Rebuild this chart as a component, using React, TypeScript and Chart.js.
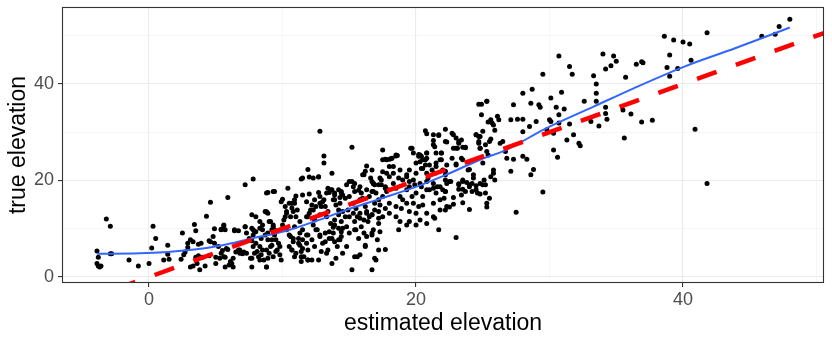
import React, { useEffect, useRef } from "react";
import { Chart, registerables } from "chart.js";

Chart.register(...registerables);

// Axis ranges and ticks
const X_MIN = -6.52;
const X_MAX = 50.56;
const Y_MIN = -1.24;
const Y_MAX = 55.95;
const gridTicks = [0, 10, 20, 30, 40, 50];
const labelTicks = [0, 20, 40];

// Reference line y = intercept + slope * x
const ablineIntercept = 0;
const ablineSlope = 1;

// Smoothed (loess) curve
const loessX = [-3.9, -0.7, 3.4, 5.5, 7.7, 10.3, 12.5, 15.3, 17.3, 20.3, 22.1, 24.8, 26.8, 29.6, 33.3, 36.3, 40.1, 43.9, 48.0];
const loessY = [4.8, 4.9, 5.7, 6.6, 8.0, 9.6, 11.6, 14.4, 16.2, 19.0, 21.0, 24.3, 26.4, 30.6, 35.3, 39.1, 43.6, 47.4, 51.7];

// Observations: [estimated elevation, true elevation]
const pointsLeft: number[][] = [
  [-3.2, 12.0], [-2.9, 10.5], [-3.9, 5.4], [-3.8, 4.1], [-3.9, 2.8], [-3.8, 2.3], [-3.6, 2.3], [-3.7, 2.1],
  [-2.9, 4.8], [-2.8, 4.8], [-1.5, 3.5], [-0.8, 2.3], [0, 2.8], [0.2, 6.0], [0.3, 10.5], [0.5, 8.0],
  [1.4, 6.6], [1.4, 4.7], [1.1, 3.5], [1.5, 3.7], [2.5, 9.1], [2.4, 3.7], [2.6, 4.6], [2.7, 5.2],
  [2.9, 7.0], [3.1, 7.7], [3.3, 7.3], [2.9, 6.1], [3.4, 10.9], [3.5, 9.6], [3.1, 2.1], [3.3, 2.3],
  [3.6, 2.8], [3.8, 1.5], [3.5, 4.1], [3.7, 6.8], [3.9, 7.0], [3.7, 4.4], [4.0, 4.1], [4.5, 4.4],
  [4.2, 2.3], [4.3, 12.6], [4.6, 15.5], [4.5, 7.5], [4.6, 7.3], [4.8, 8.4], [4.9, 10.0], [4.9, 7.0],
  [5.2, 6.3], [5.0, 4.1], [5.0, 2.8], [5.4, 9.8], [5.6, 10.6], [5.7, 9.8], [5.3, 3.9], [5.7, 4.1],
  [5.5, 5.5], [5.9, 5.7], [5.9, 16.5], [5.7, 2.1], [6.0, 2.5], [6.2, 2.8], [6.3, 3.9], [6.4, 9.6],
  [6.7, 9.6], [6.5, 5.2], [6.7, 5.6], [6.8, 4.9], [7.0, 4.8], [7.1, 5.2], [7.2, 19.1], [7.2, 10.4],
  [7.3, 9.1], [7.5, 8.0], [7.7, 7.5], [7.6, 3.9], [7.7, 2.1], [7.7, 12.9], [7.8, 20.3],
];

const pointsMiddleLow: number[][] = [
  [13.1, 25.1], [13.1, 23.6], [13.7, 21.5], [11.9, 22.3], [11.4, 20.3], [12.3, 20.5], [12.7, 20.7], [10.4, 18.4],
  [8.8, 17.4], [9.3, 17.7], [11.0, 16.8], [11.5, 17.0], [12.0, 17.2], [12.7, 17.5], [13.4, 18.4], [13.5, 17.5],
  [13.9, 17.4], [13.7, 18.1], [14.4, 17.7], [14.5, 17.0], [14.3, 16.5], [10.0, 16.1], [10.9, 15.3], [10.7, 14.3],
  [10.3, 13.2], [10.2, 12.5], [8.8, 13.5], [8.9, 13.2], [8.0, 12.5], [7.8, 9.8], [7.9, 9.4], [8.3, 10.1],
  [8.5, 9.8], [8.7, 8.7], [9.2, 9.8], [9.4, 8.7], [9.5, 7.7], [9.7, 7.0], [9.8, 6.3], [8.8, 5.6],
  [9.0, 4.9], [8.9, 3.9], [8.8, 2.1], [7.8, 6.3], [8.0, 7.0], [7.9, 4.9], [8.2, 4.2], [10.0, 10.8],
  [10.3, 9.8], [10.5, 8.7], [10.8, 8.0], [10.5, 6.3], [10.7, 5.6], [11.0, 4.9], [10.9, 4.2], [11.3, 9.1],
  [11.5, 7.7], [11.5, 5.9], [11.8, 7.0], [11.4, 4.2], [11.9, 3.5], [12.2, 3.5], [11.8, 12.5], [12.0, 13.2],
  [12.3, 13.9], [12.5, 14.6], [12.8, 15.3], [13.0, 15.6], [12.3, 10.8], [12.5, 9.8], [12.8, 8.7], [13.2, 9.1],
  [13.5, 9.4], [13.8, 10.3], [13.0, 7.0], [13.4, 5.6], [13.9, 7.3], [14.2, 7.7], [14.4, 8.4], [12.7, 3.5],
  [13.7, 2.8], [14.0, 3.9], [14.5, 4.9], [15.0, 12.5], [14.2, 12.9], [14.5, 13.6], [14.9, 13.9], [14.4, 11.5],
  [14.8, 10.4], [15.5, 9.8], [15.7, 8.0], [16.2, 6.3], [15.8, 4.6], [15.4, 4.2], [15.2, 1.5], [15.0, 19.8],
  [15.3, 18.7], [15.4, 17.7], [15.0, 16.7], [15.7, 18.0], [15.9, 17.4], [16.0, 16.3], [15.8, 16.0], [16.0, 21.2],
  [16.3, 23.0], [16.7, 22.2], [16.2, 14.6], [16.3, 13.6], [16.5, 12.5], [16.4, 11.5], [16.7, 19.8], [16.9, 19.1],
  [16.8, 17.7], [17.0, 17.4], [17.2, 16.0], [17.3, 14.9], [17.4, 20.1], [17.4, 19.1], [17.7, 18.7], [17.8, 17.7],
  [16.8, 9.8], [17.3, 9.4], [16.7, 8.7], [17.2, 11.1], [16.3, 8.4], [17.2, 5.6], [17.7, 5.7], [17.0, 3.5],
  [16.7, 1.5], [17.5, 24.3], [18.0, 24.4], [18.5, 25.1], [18.3, 22.9], [17.8, 21.5], [18.0, 20.8], [18.3, 19.4],
  [18.5, 18.4], [18.8, 16.7], [19.0, 16.0], [19.3, 15.3], [18.9, 14.2], [18.5, 14.6], [18.0, 13.2], [18.5, 12.5],
  [18.8, 11.5], [18.7, 9.8], [19.3, 10.8], [19.5, 11.5], [19.8, 25.7], [20.3, 25.3], [20.8, 25.7], [20.5, 24.3],
  [20.0, 23.6], [20.5, 22.5], [21.0, 23.2], [21.5, 23.6], [21.4, 21.5], [21.8, 24.3], [19.5, 22.2], [19.3, 20.8],
  [19.8, 20.1], [20.3, 19.4], [19.5, 18.7], [20.0, 17.4], [20.5, 16.7], [21.0, 18.1], [21.5, 17.4], [21.8, 16.0],
  [21.3, 15.3], [20.0, 13.2], [20.8, 13.2], [21.3, 12.5], [20.0, 10.8], [21.7, 9.8], [22.0, 22.2], [22.2, 20.1],
  [22.0, 18.1],
];

const pointsMiddleHigh: number[][] = [
  [12.8, 30.2], [15.2, 26.9], [17.5, 26.3], [17.7, 24.4], [18.1, 24.5], [18.6, 25.2], [19.6, 26.7], [20.2, 25.4],
  [20.4, 25.0], [20.8, 24.6], [20.7, 30.3], [20.8, 29.7], [21.3, 28.3], [21.4, 27.0], [21.7, 29.5], [21.9, 25.7],
  [20.8, 25.7],
];

const pointsUpperRight: number[][] = [
  [22.2, 30.6], [22.7, 29.8], [23.0, 28.8], [23.2, 28.1], [23.1, 26.7], [23.5, 26.9], [23.7, 26.9], [22.8, 26.7],
  [22.2, 28.1], [24.7, 35.8], [25.3, 36.4], [24.9, 33.6], [24.5, 29.5], [24.7, 29.1], [25.0, 30.2], [24.7, 27.7],
  [24.8, 26.7], [25.5, 28.1], [25.6, 28.6], [25.6, 32.6], [25.7, 31.9], [25.8, 31.5], [26.1, 33.3], [26.2, 32.6],
  [25.9, 30.4], [26.5, 28.1], [26.3, 27.7], [27.1, 32.6], [27.6, 32.7], [28.0, 32.7], [27.3, 35.7], [28.0, 38.1],
  [28.7, 38.9], [28.6, 36.0], [29.2, 35.7], [29.3, 35.2], [28.0, 30.1], [28.5, 31.2], [29.0, 32.2], [26.7, 26.0],
  [26.8, 24.6], [27.3, 24.4], [28.0, 25.0], [28.3, 24.4], [29.5, 42.0], [30.1, 37.1], [30.5, 35.2], [30.9, 38.3],
  [31.1, 34.8], [30.0, 32.6], [30.1, 32.2], [30.7, 33.6], [30.7, 31.9], [29.8, 30.5], [30.3, 29.8], [30.3, 26.3],
  [30.6, 24.8], [31.5, 43.6], [31.7, 42.0], [31.5, 31.7], [31.8, 29.5], [31.3, 28.4], [32.2, 27.7], [32.3, 27.2],
  [32.6, 36.4], [33.1, 32.2], [33.3, 41.7], [33.5, 40.0], [33.5, 38.1], [33.5, 36.4], [33.7, 31.3], [34.2, 35.2],
  [34.2, 33.9], [34.3, 32.7], [34.2, 43.1], [34.6, 43.8], [35.0, 44.7], [34.0, 46.2], [34.8, 45.8], [30.7, 45.8],
  [35.7, 41.4], [36.1, 33.8], [35.5, 34.6], [35.6, 28.8],
];

const pointsRightLow: number[][] = [
  [23.5, 24.3], [23.0, 23.4], [25.0, 23.6], [24.0, 22.3], [25.8, 22.2], [25.8, 21.5], [25.9, 20.1], [25.6, 20.8],
  [25.1, 20.1], [25.0, 19.1], [27.1, 21.9], [28.8, 22.3], [28.6, 21.2], [22.2, 21.9], [22.3, 19.4], [22.6, 19.8],
  [23.2, 19.3], [23.5, 20.1], [23.8, 19.6], [24.3, 20.5], [22.2, 17.7], [22.1, 16.3], [22.3, 14.6], [22.2, 13.9],
  [22.5, 14.5], [22.8, 16.5], [22.8, 15.1], [23.2, 18.2], [23.5, 18.2], [23.7, 17.7], [24.0, 18.7], [24.2, 19.4],
  [24.5, 18.9], [24.2, 17.7], [24.6, 17.4], [24.8, 17.2], [25.2, 17.4], [25.5, 16.3], [25.3, 15.3], [25.3, 14.5],
  [23.4, 17.0], [23.5, 15.4], [24.0, 14.0], [29.5, 17.6], [27.5, 13.4], [23.0, 8.2],
];

const pointsFarRight: number[][] = [
  [36.5, 44.1], [36.9, 44.6], [37.0, 44.4], [38.6, 49.9], [39.3, 49.1], [40.0, 48.7], [40.5, 48.3], [39.0, 46.0],
  [38.8, 43.4], [39.0, 41.6], [39.6, 43.2], [40.6, 44.9], [41.8, 50.6], [36.9, 32.1], [37.7, 32.5], [40.9, 30.6],
  [45.9, 49.9], [46.9, 50.3], [47.2, 51.9], [48.0, 53.4], [41.8, 19.4],
];

const pointsDenseLow: number[][] = [
  [8.9, 17.5], [9.4, 17.7], [11.5, 20.5], [12.0, 20.7], [12.7, 20.8], [8.7, 13.6], [8.8, 13.4], [5.6, 10.8],
  [5.4, 9.9], [6.4, 9.8], [7.2, 10.4], [7.7, 10.1], [8.0, 9.4], [7.8, 8.7], [7.6, 7.7], [5.8, 5.9],
  [5.4, 4.9], [5.6, 4.2], [6.1, 3.2], [6.3, 2.1], [6.8, 5.6], [7.3, 4.9], [7.7, 3.9], [8.1, 5.3],
  [8.3, 6.3], [8.4, 4.6], [8.6, 3.5], [8.8, 2.1], [9.1, 11.5], [9.3, 10.8], [9.4, 9.8], [8.9, 9.1],
  [9.2, 7.7], [9.1, 6.3], [9.6, 5.6], [9.8, 4.6], [9.9, 3.5], [9.9, 15.6], [10.2, 14.6], [10.3, 13.6],
  [10.6, 12.5], [10.1, 11.8], [10.7, 15.3], [10.9, 16.0], [11.1, 13.9], [10.6, 8.4], [10.8, 7.3], [11.2, 8.0],
  [11.3, 6.6], [10.7, 5.6], [11.4, 5.3], [11.6, 4.2], [11.9, 3.5], [11.4, 3.2], [11.8, 15.6], [12.2, 14.9],
  [12.4, 16.0], [12.1, 13.9], [11.9, 12.5], [12.4, 11.8], [12.8, 12.9], [12.9, 14.6], [13.1, 16.0], [11.8, 8.7],
  [12.2, 7.7], [12.6, 9.8], [12.8, 8.4], [13.2, 7.3], [12.9, 5.3], [13.3, 4.9], [13.3, 17.4], [13.6, 18.1],
  [13.9, 17.0], [14.2, 18.1], [14.4, 17.4], [14.7, 16.3], [13.9, 16.0], [14.3, 15.3], [13.6, 11.1], [13.9, 10.8],
  [14.2, 10.1], [13.8, 9.1], [13.7, 8.0], [14.3, 7.7], [14.4, 9.4], [14.1, 6.3], [14.8, 19.1], [15.2, 19.8],
  [15.4, 19.4], [15.8, 18.7], [16.1, 21.2], [16.2, 21.9], [16.6, 20.5], [16.8, 19.4], [15.3, 13.2], [15.6, 12.5],
  [15.8, 12.2], [16.1, 11.8], [16.3, 13.2], [16.7, 12.9], [16.9, 13.9], [17.2, 12.2], [15.4, 9.8], [16.1, 9.1],
  [16.7, 9.1], [17.1, 7.7], [16.2, 6.6], [16.9, 3.9], [15.6, 4.2],
];

const pointsDenseHigh: number[][] = [
  [24.9, 35.8], [25.3, 36.4], [25.4, 32.1], [22.8, 29.5], [23.4, 28.4], [23.0, 26.7], [23.2, 27.7], [23.7, 26.8],
  [21.3, 29.5], [21.7, 29.3], [21.3, 27.4], [22.3, 28.0], [21.5, 25.7], [21.9, 25.7], [24.5, 29.5], [24.8, 29.1],
  [24.7, 28.1], [24.8, 26.7], [25.2, 27.4], [25.3, 26.0], [25.4, 25.3], [17.8, 24.3], [18.2, 24.6], [18.5, 25.3],
  [18.0, 22.9], [17.5, 21.8], [18.3, 21.5], [18.7, 20.5], [19.7, 26.7], [20.2, 25.0], [20.3, 23.9], [20.7, 24.3],
  [20.7, 23.2], [20.4, 22.5], [20.8, 21.5], [20.0, 21.5], [20.9, 20.5], [21.2, 22.2], [21.5, 22.9], [21.9, 24.3],
  [22.3, 23.2], [22.7, 24.6], [22.2, 21.2], [23.0, 23.2], [23.4, 24.6], [24.0, 23.9], [23.9, 22.2], [24.3, 21.2],
  [23.5, 19.8], [24.0, 19.1], [24.5, 18.1], [24.8, 19.4], [25.2, 19.1], [16.8, 19.4], [17.2, 19.1], [17.3, 20.5],
  [16.7, 17.7], [17.7, 18.4], [19.3, 21.2], [19.5, 19.8], [19.9, 19.1], [20.4, 18.7], [20.8, 18.1], [21.3, 18.4],
  [21.8, 18.7], [22.2, 17.7], [22.5, 19.8], [23.2, 19.1],
];

const pointsCoreBand: number[][] = [
  [8.3, 11.5], [8.5, 10.8], [9.0, 11.5], [9.3, 10.4], [8.4, 8.0], [8.9, 7.7], [9.2, 6.6], [8.5, 5.6],
  [8.3, 3.5], [9.3, 4.2], [9.5, 5.3], [10.5, 15.3], [10.8, 13.6], [11.0, 12.5], [11.3, 11.5], [10.9, 10.4],
  [11.5, 9.8], [11.9, 8.7], [11.2, 7.0], [11.9, 5.6], [12.4, 6.3], [12.8, 16.7], [13.2, 14.6], [13.4, 13.6],
  [13.8, 16.0], [14.0, 14.9], [14.2, 13.9], [13.3, 12.5], [13.9, 11.8], [14.7, 12.5], [14.5, 10.1], [15.0, 9.1],
  [13.5, 8.0], [14.8, 6.3], [15.3, 15.3], [15.5, 14.2], [15.8, 13.2], [15.4, 11.5], [15.9, 10.4], [16.3, 18.1],
  [16.5, 16.7], [16.9, 15.3], [17.2, 13.6], [17.5, 12.5], [17.7, 14.2], [16.7, 12.9], [17.5, 16.7], [18.0, 15.3],
  [17.9, 18.1], [18.8, 22.2], [19.0, 20.1], [19.3, 18.1], [19.7, 16.7], [19.8, 15.3], [20.2, 14.6], [20.5, 14.9],
  [19.5, 13.6], [20.8, 19.8], [21.3, 19.4], [21.6, 18.7], [21.8, 13.9], [21.4, 12.2], [20.8, 11.1], [20.3, 11.8],
];

const FONT = "'Liberation Sans', Arial, sans-serif";

export default function App() {
  const canvasRef = useRef<HTMLCanvasElement | null>(null);

  useEffect(() => {
    const canvas = canvasRef.current;
    if (!canvas) return;

    const allPoints = [
      ...pointsLeft, ...pointsMiddleLow, ...pointsMiddleHigh, ...pointsUpperRight,
      ...pointsRightLow, ...pointsFarRight, ...pointsDenseLow, ...pointsDenseHigh, ...pointsCoreBand,
    ].map(([x, y]) => ({ x, y }));

    const loess = loessX.map((x, i) => ({ x, y: loessY[i] }));
    const abline = [X_MIN, X_MAX].map((x) => ({ x, y: ablineIntercept + ablineSlope * x }));

    const isMajor = (v: number) => labelTicks.includes(v);

    const panelBorder = {
      id: "panelBorder",
      afterDraw(chart: any) {
        const { ctx, chartArea } = chart;
        ctx.save();
        ctx.strokeStyle = "#333333";
        ctx.lineWidth = 1.1;
        ctx.strokeRect(
          Math.round(chartArea.left) + 0.5,
          Math.round(chartArea.top) + 0.5,
          Math.round(chartArea.right - chartArea.left) - 1,
          Math.round(chartArea.bottom - chartArea.top) - 1
        );
        ctx.restore();
      },
    };

    const gridOpts = {
      color: (c: any) => (c.tick && isMajor(c.tick.value) ? "#EBEBEB" : "#F0F0F0"),
      lineWidth: (c: any) => (c.tick && isMajor(c.tick.value) ? 1.1 : 0.6),
      drawTicks: true,
      tickLength: 4,
      tickWidth: 1.1,
      tickColor: (c: any) => (c.tick && isMajor(c.tick.value) ? "#333333" : "rgba(0,0,0,0)"),
    };

    const chart = new Chart(canvas, {
      type: "scatter",
      data: {
        datasets: [
          {
            type: "scatter",
            data: allPoints,
            pointRadius: 2.5,
            pointHoverRadius: 2.5,
            pointBackgroundColor: "#000000",
            pointBorderWidth: 0,
            borderColor: "#000000",
            order: 3,
          } as any,
          {
            type: "line",
            data: loess,
            borderColor: "#3366FF",
            borderWidth: 2,
            pointRadius: 0,
            fill: false,
            cubicInterpolationMode: "monotone",
            order: 2,
          } as any,
          {
            type: "line",
            data: abline,
            borderColor: "#FF0000",
            borderWidth: 4.5,
            borderDash: [20.7, 20.5],
            borderDashOffset: 25.1,
            pointRadius: 0,
            fill: false,
            clip: 0,
            order: 1,
          } as any,
        ],
      },
      options: {
        responsive: false,
        animation: false,
        events: [],
        layout: { padding: { top: 7, right: 8, left: 0, bottom: 0 } },
        plugins: { legend: { display: false }, tooltip: { enabled: false } },
        scales: {
          x: {
            type: "linear",
            min: X_MIN,
            max: X_MAX,
            afterBuildTicks: (s: any) => {
              s.ticks = gridTicks.map((v) => ({ value: v }));
            },
            afterFit: (s: any) => {
              s.height = 60;
              s.paddingLeft = 0;
              s.paddingRight = 0;
            },
            grid: gridOpts as any,
            border: { display: false },
            ticks: {
              autoSkip: false,
              maxRotation: 0,
              padding: 2,
              color: "#4D4D4D",
              font: { family: FONT, size: 18 },
              callback: (v: any) => (isMajor(Number(v)) ? String(v) : ""),
            },
            title: {
              display: true,
              text: "estimated elevation",
              color: "#000000",
              font: { family: FONT, size: 23 },
              padding: { top: 0, bottom: 6 },
            },
          },
          y: {
            type: "linear",
            min: Y_MIN,
            max: Y_MAX,
            afterBuildTicks: (s: any) => {
              s.ticks = gridTicks.map((v) => ({ value: v }));
            },
            afterFit: (s: any) => {
              s.width = 62;
              s.paddingTop = 0;
              s.paddingBottom = 0;
            },
            grid: gridOpts as any,
            border: { display: false },
            ticks: {
              autoSkip: false,
              padding: 4,
              color: "#4D4D4D",
              font: { family: FONT, size: 18 },
              callback: (v: any) => (isMajor(Number(v)) ? String(v) : ""),
            },
            title: {
              display: true,
              text: "true elevation",
              color: "#000000",
              font: { family: FONT, size: 23 },
              padding: { top: 5, bottom: 0 },
            },
          },
        },
      },
      plugins: [panelBorder],
    });

    return () => chart.destroy();
  }, []);

  return (
    <div style={{ position: "fixed", left: 0, top: 0, width: 832, height: 343, background: "#ffffff" }}>
      <canvas ref={canvasRef} width={832} height={343} style={{ display: "block" }} />
    </div>
  );
}
